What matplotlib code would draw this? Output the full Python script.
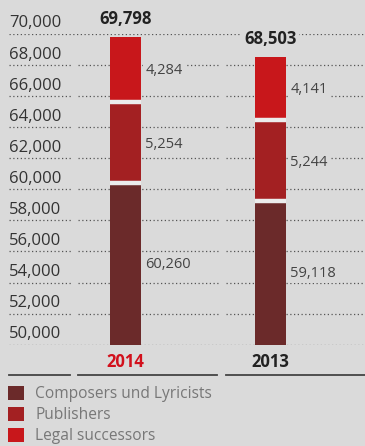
import matplotlib
matplotlib.use("Agg")
import matplotlib.pyplot as plt
import matplotlib.transforms as mtransforms

# ---- data ----
years = ["2014", "2013"]
composers = [60260, 59118]
publishers = [5254, 5244]
legal = [4284, 4141]
totals = [69798, 68503]
series_names = ["Composers und Lyricists", "Publishers", "Legal successors"]
yticks = [50000, 52000, 54000, 56000, 58000, 60000, 62000, 64000, 66000, 68000, 70000]

# ---- style ----
W, H = 365, 446
BG = "#dadada"
C_COMP = "#6b2a2a"
C_PUB = "#a32022"
C_LEG = "#c8171b"
GAP = "#ececec"
FONT = ["Open Sans", "DejaVu Sans"]
plt.rcParams["font.family"] = FONT

fig = plt.figure(figsize=(W / 100, H / 100), dpi=100, facecolor=BG)

def fx(px):
    return px / W

def fy(py):
    return 1 - py / H

y_top_px, y_bot_px = 33.7, 344.7
ax = fig.add_axes([0, fy(y_bot_px), 1, fy(y_top_px) - fy(y_bot_px)])
ax.set_facecolor(BG)
ax.set_ylim(50000, 70000)
unit = 145.0
c0 = 125.5
ax.set_xlim(-c0 / unit, (W - c0) / unit)
ax.axis("off")

bw = 31 / unit
xs = [0, 1]
bl = [c + p for c, p in zip(composers, publishers)]
b_comp = ax.bar(xs, composers, width=bw, color=C_COMP, zorder=3, label=series_names[0])
b_pub = ax.bar(xs, publishers, width=bw, bottom=composers, color=C_PUB, zorder=3, label=series_names[1])
b_leg = ax.bar(xs, legal, width=bw, bottom=bl, color=C_LEG, zorder=3, label=series_names[2])

# gaps between segments
for x, b1, b2 in zip(xs, composers, bl):
    for b in (b1, b2):
        ax.plot([x - bw / 2, x + bw / 2], [b + 120, b + 120], color=GAP, lw=3.2,
                solid_capstyle="butt", zorder=4)

# dotted grid lines
trans = mtransforms.blended_transform_factory(ax.transAxes, ax.transData)
dot = dict(color="#555555", lw=0.9, linestyle=(0, (1, 2)), zorder=1)
for v in yticks:
    if v in (50000, 70000):
        segs = [(9, 365)]
    else:
        segs = [(9, 71), (78, 218), (226, 365)]
    for a, b in segs:
        ax.plot([fx(a), fx(b)], [v, v], transform=trans, **dot)
    ax.annotate(f"{v:,}", xy=(fx(9), v), xycoords=trans, xytext=(0, 4.5),
                textcoords="offset points", ha="left", va="baseline",
                fontsize=12, color="#333333", zorder=5)

# segment labels
for i, x in enumerate(xs):
    mids = [(50000 + composers[i]) / 2,
            composers[i] + publishers[i] / 2,
            bl[i] + legal[i] / 2]
    vals = [composers[i], publishers[i], legal[i]]
    for m, v in zip(mids, vals):
        ax.annotate(f"{v:,}", xy=(x + bw / 2, m), xytext=(3, 0), textcoords="offset points",
                    ha="left", va="center", fontsize=10.5, color="#444444", zorder=5,
                    bbox=dict(boxstyle="square,pad=0.15", fc=BG, ec="none"))
    ax.annotate(f"{totals[i]:,}", xy=(x, totals[i]), xytext=(0, 6.5), textcoords="offset points",
                ha="center", va="bottom", fontsize=12, fontweight="bold", color="#222222",
                zorder=5, bbox=dict(boxstyle="square,pad=0.15", fc=BG, ec="none"))

# year labels
year_colors = ["#d2101c", "#222222"]
for x, yr, col in zip(xs, years, year_colors):
    fig.text(fx(c0 + x * unit), fy(362), yr, ha="center", va="center",
             fontsize=12, fontweight="bold", color=col)

# solid lines under years
for a, b in [(9, 70), (78, 217), (226, 365)]:
    fig.add_artist(plt.Line2D([fx(a), fx(b)], [fy(375), fy(375)], color="#444444", lw=1.3))

# legend
fig.legend(handles=[b_comp, b_pub, b_leg], labels=series_names,
           loc="upper left", bbox_to_anchor=(fx(8), fy(386)), frameon=False,
           fontsize=11.2, handlelength=1.0, handleheight=1.0, handletextpad=0.75,
           labelspacing=0.3, borderpad=0, borderaxespad=0, labelcolor="#777777")

fig.savefig("out.png", dpi=100, facecolor=BG)
